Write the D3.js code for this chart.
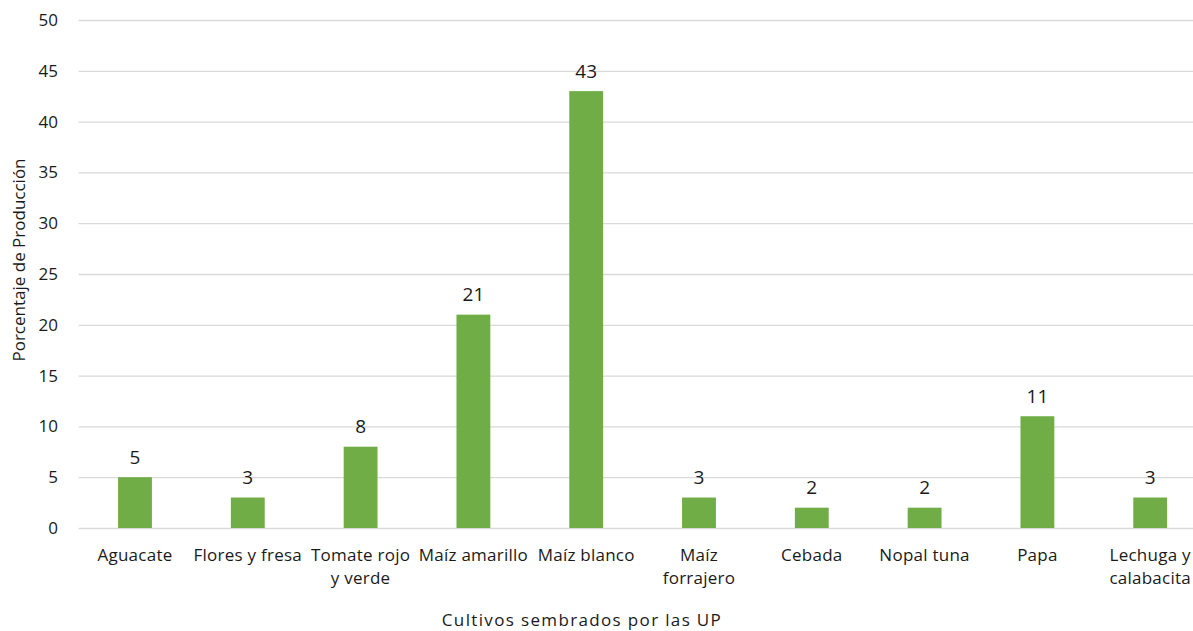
<!DOCTYPE html>
<html><head><meta charset="utf-8">
<script src="https://cdn.jsdelivr.net/npm/d3@7"></script>
<style>body{margin:0;background:#fff}svg{display:block}text{font-family:"Open Sans",sans-serif}</style>
</head><body><svg id="c" width="1193" height="631"></svg>
<script>
const categories = ["Aguacate","Flores y fresa","Tomate rojo\ny verde","Maíz amarillo","Maíz blanco","Maíz\nforrajero","Cebada","Nopal tuna","Papa","Lechuga y\ncalabacita"];
const values = [5,3,8,21,43,3,2,2,11,3];
const yTicks = [0,5,10,15,20,25,30,35,40,45,50];
const yTitle = "Porcentaje de Producción";
const xTitle = "Cultivos sembrados por las UP";

(function(){
const svg = d3.select("#c");
const pLeft = 78.6, step = 112.8, pTop = 20, pBottom = 528;
const ink = "#1a1a1a";
const x = d3.scaleBand().domain(categories).range([pLeft, pLeft + step*categories.length]).paddingInner(0.7).paddingOuter(0.35);
const y = d3.scaleLinear().domain([0,50]).range([pBottom, pTop]);

svg.append("g").selectAll("line").data(yTicks).join("line")
  .attr("x1", pLeft).attr("x2", 1193).attr("y1", d=>y(d)+0.5).attr("y2", d=>y(d)+0.5)
  .attr("stroke", "#d9d9d9").attr("stroke-width", 1.3);

svg.append("g").selectAll("text").data(yTicks).join("text")
  .attr("x", 58).attr("y", d=>y(d)).attr("dy","0.35em").attr("text-anchor","end")
  .attr("font-size", 17).attr("fill",ink).text(d=>d);

svg.append("g").selectAll("rect").data(values).join("rect")
  .attr("x", (d,i)=>x(categories[i])).attr("width", x.bandwidth())
  .attr("y", d=>y(d)).attr("height", d=>pBottom - y(d)).attr("fill","#70ad47");

svg.append("g").selectAll("text").data(values).join("text")
  .attr("x", (d,i)=>x(categories[i]) + x.bandwidth()/2).attr("y", d=>y(d)-20).attr("dy","0.35em")
  .attr("text-anchor","middle").attr("font-size", 19).attr("fill",ink).text(d=>d);

const xl = svg.append("g").selectAll("text").data(categories).join("text")
  .attr("x", d=>x(d) + x.bandwidth()/2).attr("y", 555).attr("text-anchor","middle")
  .attr("font-size", 17).attr("letter-spacing", 0.25).attr("fill",ink);
xl.each(function(d){
  const t = d3.select(this);
  d.split("\n").forEach((s,k)=>t.append("tspan").attr("x", t.attr("x")).attr("y", 555 + k*23).attr("dy","0.35em").text(s));
});

svg.append("text").attr("x", 582).attr("y", 620).attr("dy","0.35em").attr("text-anchor","middle")
  .attr("font-size", 17).attr("letter-spacing", 1.35).attr("fill",ink).text(xTitle);
svg.append("text").attr("transform","translate(19,260) rotate(-90)").attr("dy","0.35em").attr("text-anchor","middle")
  .attr("font-size", 17).attr("fill",ink).text(yTitle);
})();
</script></body></html>
